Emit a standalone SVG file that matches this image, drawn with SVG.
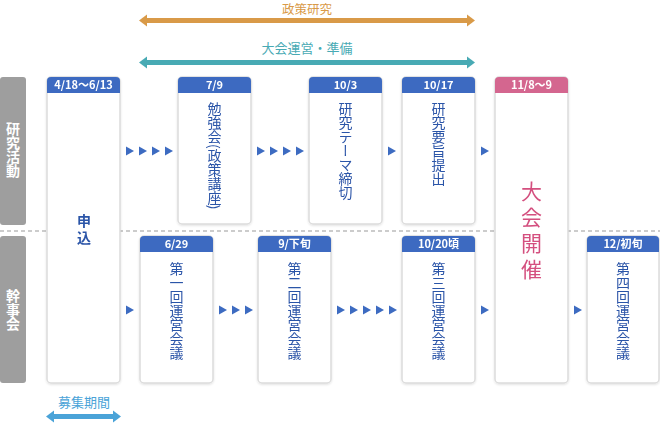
<svg xmlns="http://www.w3.org/2000/svg" width="660" height="424" viewBox="0 0 660 424">
<defs>
<style>
text{font-family:"Noto Sans CJK JP","Noto Sans",sans-serif;}
.box{fill:#fff;stroke:#dcdcdc;stroke-width:1.5;}
.hd{fill:#3d6bc1;}
.hdp{fill:#d4668f;}
.ht{fill:#fff;font-size:11px;font-weight:bold;text-anchor:middle;}
.vt{fill:#2c55a8;font-size:14px;writing-mode:vertical-rl;text-anchor:start;}
.side{fill:#9e9e9e;}
.st{fill:#fff;font-size:14px;font-weight:bold;writing-mode:vertical-rl;text-anchor:middle;}
.tri{fill:#3d6bc1;}
</style>
<filter id="sh" x="-10%" y="-10%" width="120%" height="120%"><feDropShadow dx="0" dy="1" stdDeviation="0.8" flood-color="#000" flood-opacity="0.12"/></filter>
<polygon id="t" points="0,-4.5 8,0 0,4.5"/>
</defs>

<!-- top period arrows -->
<g id="policy">
<text x="307" y="14" font-size="12.5" fill="#d99a48" text-anchor="middle">政策研究</text>
<line x1="145" y1="20.5" x2="469" y2="20.5" stroke="#d99a48" stroke-width="5"/>
<polygon points="139,20.5 147,14.5 147,26.5" fill="#d99a48"/>
<polygon points="475,20.5 467,14.5 467,26.5" fill="#d99a48"/>
</g>
<g id="prep">
<text x="307" y="53" font-size="13" fill="#48aab4" text-anchor="middle">大会運営・準備</text>
<line x1="145" y1="62.5" x2="469" y2="62.5" stroke="#48aab4" stroke-width="5"/>
<polygon points="139,62.5 147,56.5 147,68.5" fill="#48aab4"/>
<polygon points="475,62.5 467,56.5 467,68.5" fill="#48aab4"/>
</g>

<!-- side labels -->
<g id="lbl-research">
<rect class="side" x="0" y="77" width="26" height="148" rx="3"/>
<text class="st" x="13" y="150">研究活動</text>
</g>
<g id="lbl-kanji">
<rect class="side" x="0" y="236" width="26" height="147" rx="3"/>
<text class="st" x="13" y="310">幹事会</text>
</g>

<line x1="0" y1="231" x2="660" y2="231" stroke="#999" stroke-width="1" stroke-dasharray="4,3"/>

<!-- nodes -->
<g id="n-apply" filter="url(#sh)">
<rect class="box" x="47" y="77" width="73" height="306" rx="4"/>
<path class="hd" d="M47,93 V81 a4,4 0 0 1 4,-4 H116 a4,4 0 0 1 4,4 V93 Z"/>
<text class="ht" x="83.5" y="89">4/18〜6/13</text>
<text class="vt" x="84" y="214" font-weight="bold" style="letter-spacing:3px">申込</text>
</g>
<g id="n-study" filter="url(#sh)">
<rect class="box" x="178" y="77" width="73" height="147" rx="4"/>
<path class="hd" d="M178,93 V81 a4,4 0 0 1 4,-4 H247 a4,4 0 0 1 4,4 V93 Z"/>
<text class="ht" x="214.5" y="89">7/9</text>
<text class="vt" x="214.5" y="102">勉強会(政策講座)</text>
</g>
<g id="n-theme" filter="url(#sh)">
<rect class="box" x="309" y="77" width="73" height="147" rx="4"/>
<path class="hd" d="M309,93 V81 a4,4 0 0 1 4,-4 H378 a4,4 0 0 1 4,4 V93 Z"/>
<text class="ht" x="345.5" y="89">10/3</text>
<text class="vt" x="345.5" y="102">研究テーマ締切</text>
</g>
<g id="n-abstract" filter="url(#sh)">
<rect class="box" x="402" y="77" width="73" height="147" rx="4"/>
<path class="hd" d="M402,93 V81 a4,4 0 0 1 4,-4 H471 a4,4 0 0 1 4,4 V93 Z"/>
<text class="ht" x="438.5" y="89">10/17</text>
<text class="vt" x="438.5" y="102">研究要旨提出</text>
</g>
<g id="n-conf" filter="url(#sh)">
<rect class="box" x="495" y="77" width="73" height="306" rx="4"/>
<path class="hdp" d="M495,93 V81 a4,4 0 0 1 4,-4 H564 a4,4 0 0 1 4,4 V93 Z"/>
<text class="ht" x="531.5" y="89">11/8〜9</text>
<text class="vt" x="531.5" y="181" style="fill:#d4507f;font-size:21px;letter-spacing:5px">大会開催</text>
</g>
<g id="n-m1" filter="url(#sh)">
<rect class="box" x="140" y="236" width="73" height="147" rx="4"/>
<path class="hd" d="M140,252 V240 a4,4 0 0 1 4,-4 H209 a4,4 0 0 1 4,4 V252 Z"/>
<text class="ht" x="176.5" y="248">6/29</text>
<text class="vt" x="176.5" y="262">第一回運営会議</text>
</g>
<g id="n-m2" filter="url(#sh)">
<rect class="box" x="258" y="236" width="73" height="147" rx="4"/>
<path class="hd" d="M258,252 V240 a4,4 0 0 1 4,-4 H327 a4,4 0 0 1 4,4 V252 Z"/>
<text class="ht" x="294.5" y="248">9/下旬</text>
<text class="vt" x="294.5" y="262">第二回運営会議</text>
</g>
<g id="n-m3" filter="url(#sh)">
<rect class="box" x="402" y="236" width="73" height="147" rx="4"/>
<path class="hd" d="M402,252 V240 a4,4 0 0 1 4,-4 H471 a4,4 0 0 1 4,4 V252 Z"/>
<text class="ht" x="438.5" y="248">10/20頃</text>
<text class="vt" x="438.5" y="262">第三回運営会議</text>
</g>
<g id="n-m4" filter="url(#sh)">
<rect class="box" x="587" y="236" width="72" height="147" rx="4"/>
<path class="hd" d="M587,252 V240 a4,4 0 0 1 4,-4 H655 a4,4 0 0 1 4,4 V252 Z"/>
<text class="ht" x="623" y="248">12/初旬</text>
<text class="vt" x="623" y="262">第四回運営会議</text>
</g>

<!-- connectors -->
<g id="connectors" class="tri">
<use href="#t" x="126" y="151"/><use href="#t" x="139" y="151"/><use href="#t" x="152" y="151"/><use href="#t" x="165" y="151"/>
<use href="#t" x="257" y="151"/><use href="#t" x="270" y="151"/><use href="#t" x="283" y="151"/><use href="#t" x="296" y="151"/>
<use href="#t" x="388" y="151"/>
<use href="#t" x="481" y="151"/>
<use href="#t" x="126" y="310"/>
<use href="#t" x="219" y="310"/><use href="#t" x="232" y="310"/><use href="#t" x="245" y="310"/>
<use href="#t" x="337" y="310"/><use href="#t" x="350" y="310"/><use href="#t" x="363" y="310"/><use href="#t" x="376" y="310"/><use href="#t" x="389" y="310"/>
<use href="#t" x="481" y="310"/>
<use href="#t" x="574" y="310"/>
</g>

<!-- recruitment period -->
<g id="recruit">
<text x="84" y="407" font-size="13" fill="#4aa3d8" text-anchor="middle">募集期間</text>
<line x1="52" y1="416.5" x2="115" y2="416.5" stroke="#4aa3d8" stroke-width="5"/>
<polygon points="46,416.5 54,410.5 54,422.5" fill="#4aa3d8"/>
<polygon points="121,416.5 113,410.5 113,422.5" fill="#4aa3d8"/>
</g>
</svg>
